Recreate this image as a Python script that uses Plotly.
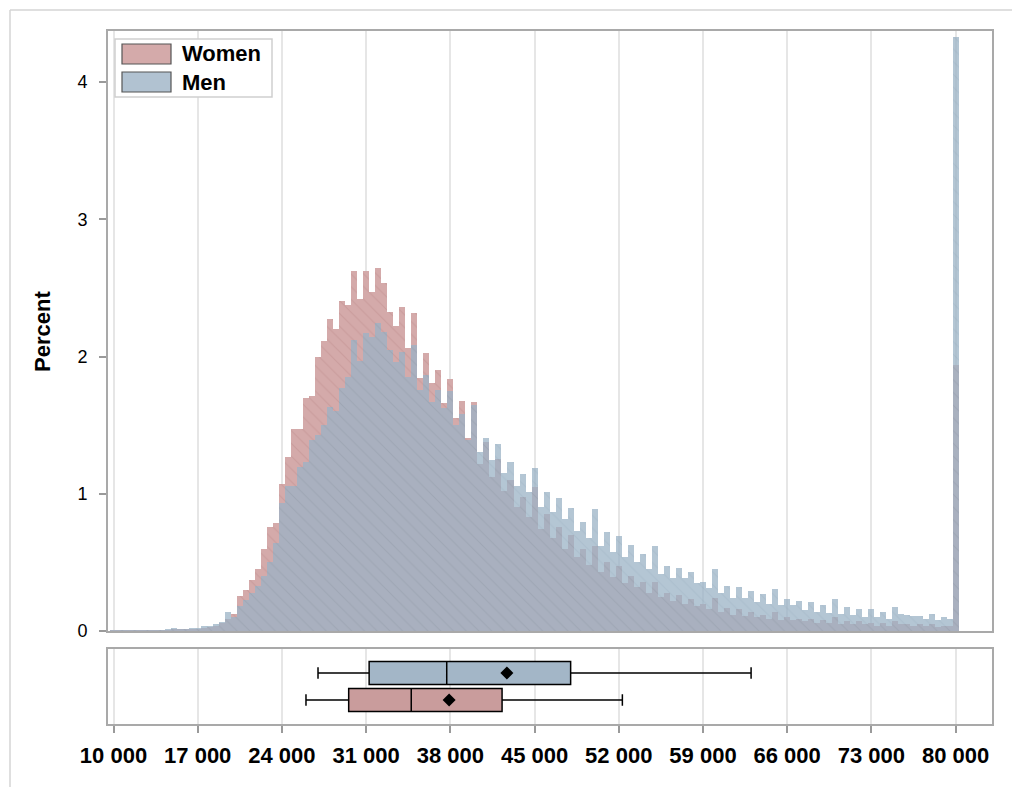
import plotly.graph_objects as go

# Salary bins: 500-wide bins centred on 10 000 ... 80 000 (last bin is top-coded)
bin_centers = list(range(10000, 80001, 500))

women_pct = [
    0.002, 0.002, 0.002, 0.002, 0.003, 0.003, 0.003, 0.003, 0.004, 0.005,   # 10000-14500
    0.008, 0.008, 0.010, 0.012, 0.015, 0.020, 0.030, 0.040, 0.055, 0.090,   # 15000-19500
    0.121, 0.253, 0.299, 0.372, 0.449, 0.595, 0.760, 0.784, 1.073, 1.268,   # 20000-24500
    1.470, 1.470, 1.700, 1.715, 2.000, 2.115, 2.271, 2.203, 2.407, 2.375,   # 25000-29500
    2.625, 2.419, 2.625, 2.472, 2.642, 2.533, 2.324, 2.220, 2.363, 2.064,   # 30000-34500
    2.319, 1.846, 2.028, 1.805, 1.902, 1.659, 1.836, 1.550, 1.678, 1.404,   # 35000-39500
    1.668, 1.220, 1.380, 1.120, 1.250, 1.020, 1.100, 0.900, 0.980, 0.830,   # 40000-44500
    1.050, 0.740, 0.850, 0.680, 0.760, 0.600, 0.700, 0.540, 0.600, 0.480,   # 45000-49500
    0.620, 0.430, 0.500, 0.390, 0.470, 0.350, 0.400, 0.320, 0.360, 0.280,   # 50000-54500
    0.360, 0.250, 0.280, 0.220, 0.260, 0.200, 0.230, 0.180, 0.200, 0.160,   # 55000-59500
    0.240, 0.140, 0.170, 0.120, 0.160, 0.110, 0.140, 0.100, 0.120, 0.090,   # 60000-64500
    0.140, 0.080, 0.100, 0.080, 0.090, 0.070, 0.090, 0.060, 0.080, 0.060,   # 65000-69500
    0.100, 0.050, 0.070, 0.050, 0.070, 0.050, 0.060, 0.040, 0.060, 0.040,   # 70000-74500
    0.070, 0.050, 0.050, 0.040, 0.050, 0.040, 0.050, 0.030, 0.040, 0.040,   # 75000-79500
    1.940,                                                                  # 80000+
]

men_pct = [
    0.004, 0.003, 0.003, 0.003, 0.003, 0.004, 0.004, 0.005, 0.006, 0.008,   # 10000-14500
    0.019, 0.012, 0.012, 0.019, 0.020, 0.035, 0.040, 0.050, 0.063, 0.136,   # 15000-19500
    0.100, 0.182, 0.226, 0.274, 0.330, 0.400, 0.500, 0.640, 0.930, 1.056,   # 20000-24500
    1.060, 1.197, 1.229, 1.390, 1.430, 1.500, 1.634, 1.600, 1.770, 1.853,   # 25000-29500
    2.120, 1.970, 2.174, 2.140, 2.242, 2.180, 2.050, 1.960, 2.035, 1.853,   # 30000-34500
    2.084, 1.756, 1.865, 1.671, 1.756, 1.622, 1.751, 1.501, 1.581, 1.390,   # 35000-39500
    1.650, 1.302, 1.409, 1.246, 1.362, 1.153, 1.229, 1.059, 1.141, 1.010,   # 40000-44500
    1.185, 0.906, 1.013, 0.870, 0.966, 0.817, 0.893, 0.731, 0.797, 0.680,   # 45000-49500
    0.886, 0.619, 0.721, 0.576, 0.692, 0.537, 0.624, 0.506, 0.558, 0.449,   # 50000-54500
    0.618, 0.415, 0.476, 0.388, 0.462, 0.384, 0.433, 0.352, 0.359, 0.316,   # 55000-59500
    0.449, 0.275, 0.328, 0.243, 0.321, 0.238, 0.291, 0.214, 0.270, 0.197,   # 60000-64500
    0.306, 0.187, 0.231, 0.187, 0.221, 0.153, 0.209, 0.141, 0.187, 0.129,   # 65000-69500
    0.231, 0.126, 0.172, 0.114, 0.163, 0.104, 0.158, 0.104, 0.141, 0.090,   # 70000-74500
    0.177, 0.124, 0.117, 0.112, 0.112, 0.085, 0.121, 0.080, 0.100, 0.085,   # 75000-79500
    4.330,                                                                  # 80000+
]

# Box-plot summary statistics (whisker low, Q1, median, mean, Q3, whisker high)
men_stats = dict(low=27000, q1=31250, median=37700, mean=42700, q3=48000, high=63000)
women_stats = dict(low=26000, q1=29550, median=34750, mean=37900, q3=42300, high=52300)

x_ticks = list(range(10000, 80001, 7000))
x_tick_text = [f"{v:,}".replace(",", " ") for v in x_ticks]
y_ticks = [0, 1, 2, 3, 4]

series_names = ["Women", "Men"]

# colours
WOMEN_FILL = "#d4aaaa"
WOMEN_HATCH = "#bf8e8e"
MEN_FILL = "#9bb3c6"
MEN_HATCH = "#86a0b5"
WOMEN_BOX = "#c99c9c"
MEN_BOX = "#a3b6c7"
FRAME = "#a9a9a9"
GRID = "#e6e6e6"

# figure geometry (pixels)
W, H = 1019, 787
L, R, T, B = 107, 993, 30, 725          # plot area
MAIN_BOTTOM = 632                       # bottom of the histogram panel
BOX_TOP = 648                           # top of the box-plot panel


def px(x):
    return (x - L) / (R - L)


def py(y):
    return (B - y) / (B - T)


fig = go.Figure()

fig.add_trace(go.Bar(
    x=bin_centers, y=women_pct, width=500, name=series_names[0],
    marker=dict(color=WOMEN_FILL, line=dict(width=0),
                pattern=dict(shape="\\", fgcolor=WOMEN_HATCH, size=9, solidity=0.12)),
    xaxis="x", yaxis="y", showlegend=False, hoverinfo="skip",
))
fig.add_trace(go.Bar(
    x=bin_centers, y=men_pct, width=500, name=series_names[1], opacity=0.75,
    marker=dict(color=MEN_FILL, line=dict(width=0),
                pattern=dict(shape="\\", fgcolor=MEN_HATCH, size=9, solidity=0.12)),
    xaxis="x", yaxis="y", showlegend=False, hoverinfo="skip",
))

# Box plots: women at position 0 (lower), men at position 1 (upper)
for pos, st, col in [(1, men_stats, MEN_BOX), (0, women_stats, WOMEN_BOX)]:
    fig.add_trace(go.Box(
        y=[pos], q1=[st["q1"]], median=[st["median"]], q3=[st["q3"]],
        lowerfence=[st["low"]], upperfence=[st["high"]],
        orientation="h", width=0.85, whiskerwidth=0.5,
        fillcolor=col, line=dict(color="black", width=1.5),
        xaxis="x", yaxis="y2", showlegend=False, hoverinfo="skip",
    ))
    fig.add_trace(go.Scatter(
        x=[st["mean"]], y=[pos], mode="markers",
        marker=dict(symbol="diamond", size=10, color="black"),
        xaxis="x", yaxis="y2", showlegend=False, hoverinfo="skip",
    ))

y_main_lo = -(MAIN_BOTTOM - 631) / 137.25
y_main_hi = (631 - T) / 137.25
x_lo = 10000 - (113.5 - L) / 0.01203
x_hi = 10000 + (R - 113.5) / 0.01203

fig.update_layout(
    width=W, height=H,
    margin=dict(l=L, r=W - R, t=T, b=H - B, pad=0),
    paper_bgcolor="white", plot_bgcolor="white",
    barmode="overlay", bargap=0,
    font=dict(family="Liberation Sans, Arial, sans-serif", color="black"),
    xaxis=dict(
        range=[x_lo, x_hi], anchor="y2",
        tickvals=x_ticks, ticktext=x_tick_text,
        ticks="outside", ticklen=7, tickwidth=1.5, tickcolor="#9a9a9a",
        tickfont=dict(family="Liberation Sans, Arial, sans-serif",
                      size=22, color="black", weight="bold"),
        ticklabelstandoff=4,
        showgrid=True, gridcolor=GRID, gridwidth=2,
        zeroline=False, showline=False,
    ),
    yaxis=dict(
        domain=[py(MAIN_BOTTOM), 1.0], anchor="x",
        range=[y_main_lo, y_main_hi],
        tickvals=y_ticks, ticks="outside", ticklen=7, tickwidth=1.5, tickcolor="#9a9a9a",
        tickfont=dict(size=18, color="black"), ticklabelstandoff=8,
        showgrid=False, zeroline=False, showline=False,
    ),
    yaxis2=dict(
        domain=[0.0, py(BOX_TOP)], anchor="x",
        range=[-(725 - 700) / 27.0, 1 + (673 - 648) / 27.0],
        showticklabels=False, ticks="", showgrid=False, zeroline=False, showline=False,
    ),
)

shapes = []
# outer border (top and left edges)
shapes.append(dict(type="line", xref="paper", yref="paper",
                   x0=px(10), x1=px(1012), y0=py(10), y1=py(10),
                   line=dict(color="#d4d4d4", width=1.5), layer="below"))
shapes.append(dict(type="line", xref="paper", yref="paper",
                   x0=px(10), x1=px(10), y0=py(10), y1=py(787),
                   line=dict(color="#d4d4d4", width=1.5), layer="below"))
# panel frames
shapes.append(dict(type="rect", xref="paper", yref="paper",
                   x0=0, x1=1, y0=py(MAIN_BOTTOM), y1=1,
                   line=dict(color=FRAME, width=2), layer="above"))
shapes.append(dict(type="rect", xref="paper", yref="paper",
                   x0=0, x1=1, y0=0, y1=py(BOX_TOP),
                   line=dict(color=FRAME, width=2), layer="above"))
# legend box and swatches
shapes.append(dict(type="rect", xref="paper", yref="paper",
                   x0=px(115), x1=px(272), y0=py(39), y1=py(97),
                   line=dict(color="#cfcfcf", width=1.5), fillcolor="white", layer="above"))
for (y0, y1, col) in [(44, 64, WOMEN_FILL), (72, 92, "#b1c2d1")]:
    shapes.append(dict(type="rect", xref="paper", yref="paper",
                       x0=px(122), x1=px(171), y0=py(y0), y1=py(y1),
                       line=dict(color="#555555", width=1.2), fillcolor=col, layer="above"))
fig.update_layout(shapes=shapes)

annotations = []
for name, yc in [(series_names[0], 54), (series_names[1], 82)]:
    annotations.append(dict(xref="paper", yref="paper", x=px(180), y=py(yc),
                            text=f"<b>{name}</b>", showarrow=False, xanchor="left", yanchor="middle",
                            font=dict(size=22, color="black")))
# y-axis title
annotations.append(dict(xref="paper", yref="paper", x=px(42), y=py(332),
                        text="<b>Percent</b>", showarrow=False, textangle=-90,
                        xanchor="center", yanchor="middle", font=dict(size=22, color="black")))
fig.update_layout(annotations=annotations)

fig.write_html("out.html")
